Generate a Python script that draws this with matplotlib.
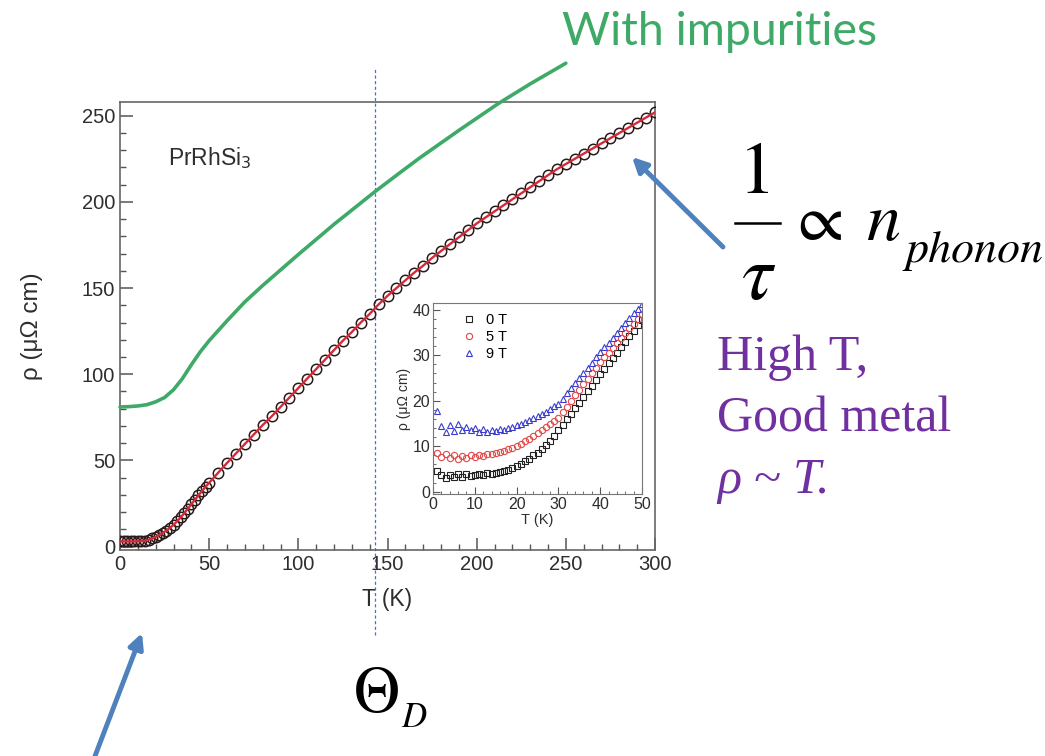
import numpy as np
import matplotlib.pyplot as plt
from matplotlib.ticker import MultipleLocator
from matplotlib.lines import Line2D

W, H = 1045, 756

# resistivity of PrRhSi3, zero field (main panel)
t_main = [0, 2, 4, 6, 8, 10, 12, 14, 16, 18, 20, 22, 24, 26, 28, 30, 32, 34, 36, 38, 40,
          42, 44, 46, 48, 50, 55, 60, 65, 70, 75, 80, 85, 90, 95, 100, 105, 110, 115, 120,
          125, 130, 135, 140, 145, 150, 155, 160, 165, 170, 175, 180, 185, 190, 195, 200,
          205, 210, 215, 220, 225, 230, 235, 240, 245, 250, 255, 260, 265, 270, 275, 280,
          285, 290, 295, 300]
rho_main = [3.0, 3.0, 3.0, 3.0, 3.0, 3.1, 3.2, 3.4, 3.9, 4.7, 5.5, 6.7, 7.9, 9.3, 10.9,
            12.5, 14.7, 16.9, 19.3, 21.9, 24.5, 27.1, 29.7, 32.2, 34.7, 37.0, 42.8, 48.5,
            54.0, 59.5, 65.0, 70.5, 75.5, 81.0, 86.5, 92.0, 97.5, 103.0, 108.5, 114.0,
            119.5, 124.5, 130.0, 135.0, 140.5, 145.5, 150.0, 154.5, 159.0, 163.0, 167.5,
            171.5, 175.5, 179.5, 183.5, 187.5, 191.0, 194.5, 198.0, 201.5, 205.0, 208.5,
            212.0, 215.5, 219.0, 222.0, 225.0, 228.0, 231.0, 234.0, 237.0, 240.0, 243.0,
            246.0, 249.0, 252.0]

# sketch of the same curve with a residual resistivity added
t_imp = [0, 5, 10, 15, 20, 25, 30, 35, 40, 45, 50, 60, 70, 80, 100, 120, 143, 157, 168,
         190, 212, 230, 250]
rho_imp = [81.0, 81.2, 81.6, 82.3, 84.0, 86.5, 91.0, 97.5, 105.5, 113.0, 119.5, 131.0,
           142.0, 151.5, 169.5, 187.0, 206.0, 217.0, 225.5, 241.5, 257.0, 268.5, 280.5]

# low temperature data in field (inset)
t_in = list(range(1, 51))
rho_0T = [4.6, 3.6, 3.1, 3.7, 3.3, 3.8, 3.2, 3.9, 3.4, 3.7, 4.0, 3.6, 4.1, 3.9, 4.2, 4.3,
          4.6, 4.7, 5.2, 5.6, 6.1, 6.8, 7.3, 8.0, 8.6, 9.4, 10.2, 11.1, 12.3, 13.5, 14.7,
          16.0, 17.2, 18.4, 19.6, 20.9, 22.1, 23.3, 24.6, 25.8, 27.0, 28.2, 29.4, 30.6,
          31.8, 33.0, 34.2, 35.4, 36.6, 37.8]
rho_5T = [8.5, 7.6, 8.2, 7.4, 8.0, 7.3, 7.9, 7.5, 8.1, 7.6, 8.0, 7.8, 8.2, 8.3, 8.5, 8.7,
          9.0, 9.3, 9.7, 10.1, 10.6, 11.1, 11.7, 12.3, 12.9, 13.5, 14.2, 14.9, 15.6, 16.3,
          17.5, 18.7, 19.9, 21.2, 22.4, 23.6, 24.8, 26.0, 27.3, 28.5, 29.6, 30.6, 31.7,
          32.7, 33.8, 34.8, 35.9, 36.9, 38.0, 39.0]
rho_9T = [17.8, 14.5, 13.2, 14.6, 13.4, 14.8, 13.6, 14.3, 13.5, 14.0, 13.2, 13.8, 13.1,
          13.6, 13.3, 13.7, 13.6, 14.0, 14.3, 14.6, 15.0, 15.3, 15.7, 16.2, 16.6, 17.1,
          17.6, 18.2, 18.8, 19.4, 20.4, 21.6, 22.8, 24.0, 25.1, 26.2, 27.3, 28.4, 29.6,
          30.7, 31.8, 32.8, 33.9, 34.9, 36.0, 37.1, 38.1, 39.2, 40.2, 41.3]
field_labels = ['0 T', '5 T', '9 T']

theta_D = 143  # K, position of the dashed marker

green = '#3FA968'
blue = '#4F81BD'
purple = '#7030A0'
grey = '#555555'


def fp(x, y):
    # pixel position (from top-left) -> figure fraction
    return x / W, 1 - y / H


fig = plt.figure(figsize=(W / 100, H / 100), dpi=100)

ax = fig.add_axes([120 / W, 1 - 550 / H, 535 / W, 448 / H])
ax.plot(t_main, rho_main, 'o', ms=7.5, mfc='none', mec='#2a1a1a', mew=1.1, zorder=3)
ax.plot(t_main, rho_main, '-', color='#d42a3a', lw=1.7, zorder=4)
ax.plot(t_imp, rho_imp, '-', color=green, lw=2.6, clip_on=False, zorder=5,
        solid_capstyle='round')
ax.axvline(theta_D, ymin=-0.19, ymax=1.076, clip_on=False, color='#4472C4', lw=0.9,
           dashes=(2.5, 2), zorder=2)

ax.set_xlim(0, 300)
ax.set_ylim(-2, 258)
ax.xaxis.set_major_locator(MultipleLocator(50))
ax.xaxis.set_minor_locator(MultipleLocator(10))
ax.yaxis.set_major_locator(MultipleLocator(50))
ax.yaxis.set_minor_locator(MultipleLocator(10))
ax.tick_params(which='both', direction='in', colors=grey, labelcolor='#2e2e2e',
               labelsize=14.5, top=False, right=False)
ax.tick_params(which='major', length=9, width=1.1)
ax.tick_params(which='minor', length=4.5, width=1.0)
for sp in ax.spines.values():
    sp.set_color('#666666')
    sp.set_linewidth(1.2)
for lab in ax.get_xticklabels() + ax.get_yticklabels():
    lab.set_family('Liberation Sans')
ax.set_xlabel('T (K)', family='Liberation Sans', fontsize=16.5, color='#2e2e2e',
              labelpad=10)
ax.set_ylabel('ρ (μΩ cm)', family='Liberation Sans', fontsize=17.5, color='#2e2e2e',
              labelpad=28)
ax.text(0.09, 0.86, 'PrRhSi$_3$', transform=ax.transAxes, family='Liberation Sans',
        fontsize=16.5, color='#2e2e2e')

# inset
axi = fig.add_axes([433 / W, 1 - 494 / H, 209 / W, 191 / H])
axi.plot(t_in, rho_0T, 's', ms=4.5, mfc='none', mec='#222222', mew=0.8, label=field_labels[0])
axi.plot(t_in, rho_5T, 'o', ms=4.5, mfc='none', mec='#e04848', mew=0.8, label=field_labels[1])
axi.plot(t_in, rho_9T, '^', ms=4.5, mfc='none', mec='#3a3ad0', mew=0.8, label=field_labels[2])
axi.set_xlim(0, 50)
axi.set_ylim(-0.5, 41.5)
axi.xaxis.set_major_locator(MultipleLocator(10))
axi.xaxis.set_minor_locator(MultipleLocator(2))
axi.yaxis.set_major_locator(MultipleLocator(10))
axi.yaxis.set_minor_locator(MultipleLocator(2))
axi.tick_params(which='both', direction='in', colors=grey, labelcolor='#2e2e2e',
                labelsize=11.5, top=False, right=False, pad=2)
axi.tick_params(which='major', length=5)
axi.tick_params(which='minor', length=2.5)
for sp in axi.spines.values():
    sp.set_color('#777777')
for lab in axi.get_xticklabels() + axi.get_yticklabels():
    lab.set_family('Liberation Sans')
axi.set_xlabel('T (K)', family='Liberation Sans', fontsize=10.5, color='#2e2e2e', labelpad=1)
axi.set_ylabel('ρ (μΩ cm)', family='Liberation Sans', fontsize=10, color='#2e2e2e',
               labelpad=1)
leg = axi.legend(loc='upper left', frameon=False, handlelength=1.2,
                 handletextpad=0.6, labelspacing=0.2, borderaxespad=0.3,
                 bbox_to_anchor=(0.08, 1.0),
                 prop={'family': 'Liberation Sans', 'size': 10.5})

# annotations around the panel
fig.text(*fp(562, 45), 'With impurities', family='Lato', fontsize=33.5, color=green,
         ha='left', va='baseline')

ax.annotate('', xy=fp(632, 157), xytext=fp(723, 247), xycoords='figure fraction',
            textcoords='figure fraction',
            arrowprops=dict(arrowstyle='-|>', color=blue, lw=3.5, mutation_scale=22,
                            shrinkA=0, shrinkB=0))
ax.annotate('', xy=fp(142, 633), xytext=fp(95, 756), xycoords='figure fraction',
            textcoords='figure fraction',
            arrowprops=dict(arrowstyle='-|>', color=blue, lw=3.5, mutation_scale=22,
                            shrinkA=0, shrinkB=0))

# 1/tau ~ n_phonon
fig.text(*fp(757, 193), '1', family='STIXGeneral', fontsize=53, ha='center',
         va='baseline', color='black')
fig.add_artist(Line2D([735 / W, 780 / W], [1 - 223 / H, 1 - 223 / H], color='black',
                      lw=1.8, transform=fig.transFigure))
fig.text(*fp(757, 299), 'τ', family='STIXGeneral', style='italic', fontsize=56,
         ha='center', va='baseline', color='black')
fig.text(*fp(797, 240), '∝', family='STIXGeneral', fontsize=48, ha='left',
         va='baseline', color='black')
fig.text(*fp(866, 240), 'n', family='STIXGeneral', style='italic', fontsize=49,
         ha='left', va='baseline', color='black')
fig.text(*fp(905, 262), 'phonon', family='STIXGeneral', style='italic', fontsize=33,
         ha='left', va='baseline', color='black')

fig.text(*fp(717, 370), 'High T,', family='Liberation Serif', fontsize=36,
         color=purple, ha='left', va='baseline')
fig.text(*fp(717, 432), 'Good metal', family='Liberation Serif', fontsize=36,
         color=purple, ha='left', va='baseline')
fig.text(*fp(717, 493), 'ρ ~ T.', family='Liberation Serif', style='italic',
         fontsize=36, color=purple, ha='left', va='baseline')

fig.text(*fp(354, 712), 'Θ', family='STIXGeneral', fontsize=46, ha='left',
         va='baseline', color='black')
fig.text(*fp(401, 727), 'D', family='STIXGeneral', style='italic', fontsize=25,
         ha='left', va='baseline', color='black')

fig.savefig('out.png', dpi=100, facecolor='white')
